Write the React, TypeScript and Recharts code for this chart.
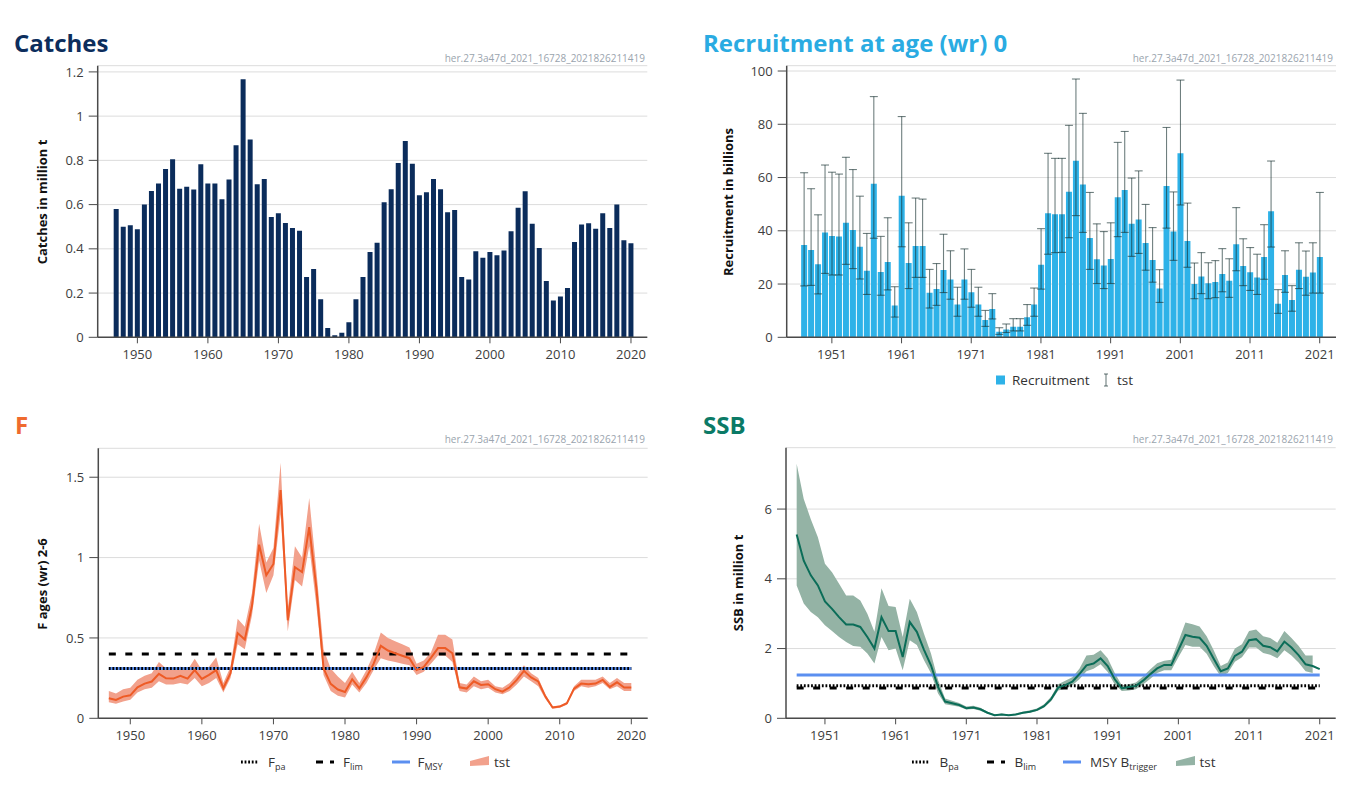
import React from 'react';
import {
  BarChart,
  Bar,
  ComposedChart,
  Area,
  Line,
  XAxis,
  YAxis,
  CartesianGrid,
  ErrorBar,
  ReferenceLine,
} from 'recharts';

// Stock assessment summary: catches, recruitment, F, SSB (her.27.3a47d)
const FONT = "'Open Sans', 'DejaVu Sans', sans-serif";
const AXIS = '#4a4a4a';
const TICK_TEXT = '#3d3d3d';
const GRID = '#dcdcdc';
const STAMP = 'her.27.3a47d_2021_16728_2021826211419';
const DOTS = '1.8 1.8';

const years = [
  1947, 1948, 1949, 1950, 1951, 1952, 1953, 1954, 1955, 1956,
  1957, 1958, 1959, 1960, 1961, 1962, 1963, 1964, 1965, 1966,
  1967, 1968, 1969, 1970, 1971, 1972, 1973, 1974, 1975, 1976,
  1977, 1978, 1979, 1980, 1981, 1982, 1983, 1984, 1985, 1986,
  1987, 1988, 1989, 1990, 1991, 1992, 1993, 1994, 1995, 1996,
  1997, 1998, 1999, 2000, 2001, 2002, 2003, 2004, 2005, 2006,
  2007, 2008, 2009, 2010, 2011, 2012, 2013, 2014, 2015, 2016,
  2017, 2018, 2019, 2020, 2021,
];

const ticks1950 = [1950, 1960, 1970, 1980, 1990, 2000, 2010, 2020];
const ticks1951 = [1951, 1961, 1971, 1981, 1991, 2001, 2011, 2021];

// Catches, million t (1947-2020)
const catches = [
  0.58, 0.5, 0.507, 0.488, 0.6, 0.662, 0.695, 0.761, 0.805, 0.672,
  0.681, 0.668, 0.782, 0.695, 0.695, 0.624, 0.713, 0.868, 1.167, 0.894,
  0.692, 0.716, 0.544, 0.561, 0.517, 0.494, 0.482, 0.273, 0.309, 0.172,
  0.042, 0.009, 0.021, 0.068, 0.172, 0.273, 0.386, 0.427, 0.611, 0.669,
  0.788, 0.888, 0.785, 0.642, 0.656, 0.716, 0.669, 0.565, 0.576, 0.273,
  0.261, 0.389, 0.36, 0.386, 0.371, 0.392, 0.479, 0.586, 0.66, 0.513,
  0.404, 0.255, 0.166, 0.184, 0.223, 0.431, 0.51, 0.516, 0.491, 0.561,
  0.494, 0.6, 0.439, 0.425,
];

// Recruitment, billions (1947-2021), with low / high bounds
const recruitment = [
  34.7, 32.8, 27.4, 39.4, 38, 37.9, 43, 40.3, 34, 25,
  57.7, 24.5, 28.3, 11.9, 53.2, 27.9, 34.3, 34.3, 16.7, 18.1,
  25.3, 21.7, 12.3, 21.7, 16.9, 12.3, 6.5, 10.6, 2.1, 2.9,
  4, 4, 7.5, 12.3, 27.2, 46.6, 46.2, 46.2, 54.7, 66.3,
  57.4, 37.3, 29.3, 27, 29.4, 52.6, 55.3, 42.6, 44.2, 35.4,
  29, 18.3, 56.8, 39.7, 69.1, 36.2, 20, 22.8, 20.3, 20.8,
  23.8, 21.2, 34.9, 26.8, 24.4, 22.5, 30.2, 47.3, 12.6, 23.4,
  14, 25.4, 22.7, 24.3, 30.2,
];
const recLow = [
  19.3, 19.5, 16.3, 24, 23.4, 23.4, 27.4, 25.8, 21.9, 16.1,
  37.2, 15.8, 17.8, 7.6, 34, 18.3, 22.5, 22.5, 11, 12,
  16.8, 14.3, 7.9, 14.3, 11.3, 7.9, 4.1, 6.9, 1.1, 1.8,
  2.4, 2.4, 4.5, 7.9, 18.1, 31.2, 31.8, 31.9, 37.4, 45.7,
  39.4, 25.5, 20.2, 18.3, 20.2, 37.8, 39.4, 30.4, 31.5, 25.2,
  20.7, 13.1, 41, 28.9, 49.7, 26.3, 14.5, 16.4, 14.5, 14.9,
  17.1, 15, 25, 19.4, 17.6, 16.1, 21.8, 33.9, 9, 16.9,
  9.8, 18.3, 15.8, 16.6, 16.6,
];
const recHigh = [
  61.8, 55.8, 46, 64.7, 62, 61.3, 67.6, 63, 53, 39,
  90.4, 37.9, 44.9, 19, 82.9, 43, 52.3, 51.9, 25.5, 27.7,
  38.7, 32.5, 18.8, 33.2, 25.5, 18.8, 10.1, 16.4, 3.6, 5,
  7, 7, 12.3, 18.5, 40.8, 69.1, 67.2, 67.2, 79.6, 97,
  84.1, 54.4, 42.6, 39.7, 43, 73.2, 77.3, 59.8, 62.5, 49.9,
  41.2, 25.4, 78.8, 54.6, 96.6, 50.4, 27.9, 31.8, 28, 28.8,
  33.3, 29.5, 48.7, 37, 33.7, 31.2, 42.3, 66.2, 17.9, 32.5,
  19.4, 35.5, 32.4, 35.5, 54.4,
];

// Fishing mortality, ages (wr) 2-6 (1947-2020)
const fValues = [
  0.125, 0.114, 0.135, 0.143, 0.193, 0.216, 0.229, 0.277, 0.249, 0.247,
  0.264, 0.247, 0.3, 0.245, 0.27, 0.3, 0.187, 0.28, 0.53, 0.49,
  0.7, 1.08, 0.89, 0.96, 1.42, 0.61, 0.94, 0.91, 1.19, 0.81,
  0.31, 0.214, 0.179, 0.164, 0.243, 0.187, 0.256, 0.34, 0.451, 0.422,
  0.405, 0.389, 0.374, 0.3, 0.32, 0.376, 0.437, 0.437, 0.405, 0.193,
  0.185, 0.23, 0.208, 0.212, 0.181, 0.166, 0.193, 0.239, 0.295, 0.254,
  0.229, 0.135, 0.067, 0.073, 0.094, 0.185, 0.216, 0.212, 0.216, 0.239,
  0.195, 0.224, 0.191, 0.191,
];
const fLow = [
  0.1, 0.09, 0.105, 0.115, 0.16, 0.18, 0.19, 0.23, 0.21, 0.21,
  0.22, 0.21, 0.25, 0.2, 0.22, 0.25, 0.16, 0.25, 0.46, 0.43,
  0.64, 0.98, 0.78, 0.89, 1.27, 0.54, 0.86, 0.82, 1.07, 0.7,
  0.27, 0.17, 0.14, 0.13, 0.21, 0.16, 0.22, 0.3, 0.374, 0.36,
  0.35, 0.34, 0.33, 0.27, 0.29, 0.34, 0.39, 0.39, 0.35, 0.17,
  0.16, 0.2, 0.18, 0.19, 0.16, 0.15, 0.17, 0.21, 0.26, 0.23,
  0.2, 0.12, 0.06, 0.065, 0.085, 0.17, 0.2, 0.19, 0.2, 0.22,
  0.18, 0.2, 0.17, 0.17,
];
const fHigh = [
  0.17, 0.155, 0.18, 0.19, 0.24, 0.265, 0.28, 0.35, 0.31, 0.31,
  0.32, 0.3, 0.37, 0.3, 0.32, 0.38, 0.22, 0.32, 0.62, 0.57,
  0.78, 1.21, 0.97, 1.06, 1.59, 0.68, 1.07, 1.0, 1.37, 0.92,
  0.43, 0.31, 0.26, 0.22, 0.29, 0.22, 0.3, 0.4, 0.534, 0.5,
  0.48, 0.46, 0.44, 0.34, 0.36, 0.41, 0.52, 0.52, 0.49, 0.22,
  0.21, 0.26, 0.23, 0.24, 0.2, 0.19, 0.22, 0.27, 0.33, 0.28,
  0.25, 0.15, 0.075, 0.08, 0.1, 0.2, 0.24, 0.24, 0.24, 0.26,
  0.22, 0.25, 0.22, 0.22,
];
const F_PA = 0.31;
const F_LIM = 0.4;
const F_MSY = 0.31;

// Spawning stock biomass, million t (1947-2021)
const ssb = [
  5.27, 4.52, 4.1, 3.81, 3.35, 3.14, 2.9, 2.69, 2.69, 2.62,
  2.33, 2.0, 2.9, 2.5, 2.5, 1.76, 2.76, 2.48, 1.97, 1.52,
  0.9, 0.48, 0.43, 0.38, 0.29, 0.31, 0.26, 0.16, 0.09, 0.11,
  0.09, 0.11, 0.16, 0.19, 0.24, 0.35, 0.55, 0.88, 0.95, 1.05,
  1.27, 1.52, 1.57, 1.72, 1.5, 1.12, 0.86, 0.9, 0.93, 1.08,
  1.26, 1.43, 1.53, 1.53, 1.96, 2.39, 2.34, 2.31, 2.08, 1.71,
  1.35, 1.43, 1.79, 1.91, 2.24, 2.27, 2.08, 2.04, 1.92, 2.2,
  2.03, 1.81, 1.55, 1.5, 1.41,
];
const ssbLow = [
  3.81, 3.29, 3.05, 2.9, 2.67, 2.5, 2.33, 2.19, 2.07, 2.05,
  1.86, 1.57, 2.33, 1.95, 2.0, 1.38, 2.24, 2.1, 1.67, 1.29,
  0.71, 0.4, 0.37, 0.33, 0.25, 0.27, 0.22, 0.13, 0.07, 0.09,
  0.07, 0.09, 0.13, 0.16, 0.21, 0.31, 0.49, 0.8, 0.85, 0.95,
  1.12, 1.35, 1.42, 1.55, 1.33, 0.97, 0.78, 0.8, 0.83, 0.97,
  1.13, 1.3, 1.38, 1.38, 1.75, 2.1, 2.05, 2.05, 1.85, 1.5,
  1.2, 1.3, 1.62, 1.75, 2.03, 2.03, 1.87, 1.82, 1.72, 1.95,
  1.8, 1.6, 1.35, 1.3, null,
];
const ssbHigh = [
  7.3, 6.29, 5.71, 5.19, 4.43, 4.19, 3.86, 3.52, 3.52, 3.38,
  3.0, 2.48, 3.73, 3.22, 3.19, 2.33, 3.43, 3.05, 2.43, 1.86,
  1.1, 0.57, 0.5, 0.44, 0.34, 0.36, 0.3, 0.19, 0.11, 0.14,
  0.11, 0.14, 0.19, 0.23, 0.28, 0.4, 0.62, 0.98, 1.08, 1.18,
  1.42, 1.8, 1.82, 1.95, 1.72, 1.3, 0.95, 0.98, 1.03, 1.2,
  1.4, 1.58, 1.65, 1.68, 2.2, 2.75, 2.7, 2.63, 2.35, 1.95,
  1.5, 1.6, 2.0, 2.12, 2.5, 2.55, 2.35, 2.3, 2.17, 2.5,
  2.3, 2.08, 1.8, 1.8, null,
];
const B_PA = 0.93;
const B_LIM = 0.87;
const MSY_BTRIGGER = 1.24;

const catchRows = catches.map((value, i) => ({ year: years[i], value }));
const recRows = recruitment.map((value, i) => ({
  year: years[i],
  value,
  err: [value - recLow[i], recHigh[i] - value],
}));
const fRows = fValues.map((f, i) => ({ year: years[i], f, band: [fLow[i], fHigh[i]] }));
const ssbRows = ssb.map((v, i) => ({
  year: years[i],
  ssb: v,
  band: ssbLow[i] == null ? null : [ssbLow[i], ssbHigh[i]],
}));

// x tick: short tick mark + label, only for the listed years
const yearTick = (axisY: number, shown: number[]) => (props: any) => {
  const { x, payload } = props;
  if (!shown.includes(payload.value)) return <g />;
  return (
    <g>
      <line x1={x} x2={x} y1={axisY} y2={axisY + 6} stroke={AXIS} strokeWidth={1} />
      <text
        x={x}
        y={axisY + 22}
        textAnchor="middle"
        fontSize={13}
        fontFamily={FONT}
        fill={TICK_TEXT}
      >
        {payload.value}
      </text>
    </g>
  );
};

const frameLine = { stroke: AXIS, strokeWidth: 1.5 };
const yAxisProps = {
  width: 60,
  tickSize: 9,
  tickMargin: 5,
  allowDataOverflow: true,
  axisLine: frameLine,
  tickLine: { stroke: AXIS },
  tick: { fontSize: 13, fill: TICK_TEXT, fontFamily: FONT },
};

function CatchesChart() {
  const pad = { left: 15, right: 12.8 };
  return (
    <BarChart
      width={680}
      height={400}
      data={catchRows}
      margin={{ top: 65.7, right: 32.7, left: 37.7, bottom: 32.7 }}
      barCategoryGap="14%"
    >
      <CartesianGrid vertical={false} stroke={GRID} />
      <XAxis
        dataKey="year"
        height={30}
        interval={0}
        padding={pad}
        tickLine={false}
        axisLine={frameLine}
        tick={yearTick(337.3, ticks1950)}
      />
      <XAxis
        xAxisId="top"
        dataKey="year"
        orientation="top"
        height={0}
        padding={pad}
        tick={false}
        tickLine={false}
        axisLine={frameLine}
      />
      <YAxis {...yAxisProps} domain={[0, 1.228]} ticks={[0, 0.2, 0.4, 0.6, 0.8, 1, 1.2]} />
      <YAxis yAxisId="right" orientation="right" width={0} tick={false} tickLine={false} axisLine={frameLine} />
      <Bar dataKey="value" fill="#0b2c5b" isAnimationActive={false} />
    </BarChart>
  );
}

function RecruitmentChart() {
  const pad = { left: 13.8, right: 12.8 };
  return (
    <BarChart
      width={689}
      height={400}
      data={recRows}
      margin={{ top: 65.7, right: 33, left: 46.7, bottom: 32.7 }}
      barCategoryGap="9%"
    >
      <CartesianGrid vertical={false} stroke={GRID} />
      <XAxis
        dataKey="year"
        height={30}
        interval={0}
        padding={pad}
        tickLine={false}
        axisLine={frameLine}
        tick={yearTick(337.3, ticks1951)}
      />
      <XAxis
        xAxisId="top"
        dataKey="year"
        orientation="top"
        height={0}
        padding={pad}
        tick={false}
        tickLine={false}
        axisLine={frameLine}
      />
      <YAxis {...yAxisProps} domain={[0, 102]} ticks={[0, 20, 40, 60, 80, 100]} />
      <YAxis yAxisId="right" orientation="right" width={0} tick={false} tickLine={false} axisLine={frameLine} />
      <Bar dataKey="value" fill="#2eb2e8" isAnimationActive={false}>
        <ErrorBar
          dataKey="err"
          direction="y"
          width={4}
          stroke="rgba(22, 48, 48, 0.62)"
          strokeWidth={1.1}
        />
      </Bar>
    </BarChart>
  );
}

function FChart() {
  const domain: [number, number] = [1945.53, 2022.29];
  return (
    <ComposedChart
      width={680}
      height={409}
      data={fRows}
      margin={{ top: 48.3, right: 32.3, left: 38.3, bottom: 60.7 }}
    >
      <CartesianGrid vertical={false} stroke={GRID} />
      <XAxis
        dataKey="year"
        type="number"
        domain={domain}
        ticks={ticks1950}
        allowDataOverflow
        height={30}
        interval={0}
        tickLine={false}
        axisLine={frameLine}
        tick={yearTick(318.3, ticks1950)}
      />
      <XAxis
        xAxisId="top"
        dataKey="year"
        type="number"
        domain={domain}
        allowDataOverflow
        orientation="top"
        height={0}
        tick={false}
        tickLine={false}
        axisLine={frameLine}
      />
      <YAxis {...yAxisProps} domain={[0, 1.68]} ticks={[0, 0.5, 1, 1.5]} />
      <YAxis yAxisId="right" orientation="right" width={0} tick={false} tickLine={false} axisLine={frameLine} />
      <Area dataKey="band" stroke="none" fill="#f2a18c" fillOpacity={1} isAnimationActive={false} />
      <ReferenceLine
        segment={[{ x: 1947, y: F_MSY }, { x: 2020, y: F_MSY }]}
        stroke="#5b8ff0"
        strokeWidth={3}
      />
      <ReferenceLine
        segment={[{ x: 1947, y: F_PA }, { x: 2020, y: F_PA }]}
        stroke="#000"
        strokeWidth={3}
        strokeDasharray={DOTS}
      />
      <ReferenceLine
        segment={[{ x: 1947, y: F_LIM }, { x: 2020, y: F_LIM }]}
        stroke="#000"
        strokeWidth={3}
        strokeDasharray="7 9.5"
      />
      <Line
        dataKey="f"
        stroke="#ee5b26"
        strokeWidth={2}
        dot={false}
        activeDot={false}
        isAnimationActive={false}
      />
    </ComposedChart>
  );
}

function SSBChart() {
  const domain: [number, number] = [1945.49, 2023.26];
  return (
    <ComposedChart
      width={689}
      height={409}
      data={ssbRows}
      margin={{ top: 47.7, right: 33.3, left: 46, bottom: 60.7 }}
    >
      <CartesianGrid vertical={false} stroke={GRID} />
      <XAxis
        dataKey="year"
        type="number"
        domain={domain}
        ticks={ticks1951}
        allowDataOverflow
        height={30}
        interval={0}
        tickLine={false}
        axisLine={frameLine}
        tick={yearTick(318.3, ticks1951)}
      />
      <XAxis
        xAxisId="top"
        dataKey="year"
        type="number"
        domain={domain}
        allowDataOverflow
        orientation="top"
        height={0}
        tick={false}
        tickLine={false}
        axisLine={frameLine}
      />
      <YAxis {...yAxisProps} domain={[0, 7.76]} ticks={[0, 2, 4, 6]} />
      <YAxis yAxisId="right" orientation="right" width={0} tick={false} tickLine={false} axisLine={frameLine} />
      <Area dataKey="band" stroke="none" fill="#94b3a5" fillOpacity={1} isAnimationActive={false} />
      <ReferenceLine
        segment={[{ x: 1947, y: MSY_BTRIGGER }, { x: 2021, y: MSY_BTRIGGER }]}
        stroke="#5b8ff0"
        strokeWidth={3}
      />
      <ReferenceLine
        segment={[{ x: 1947, y: B_LIM }, { x: 2021, y: B_LIM }]}
        stroke="#000"
        strokeWidth={3}
        strokeDasharray="7 9.5"
      />
      <ReferenceLine
        segment={[{ x: 1947, y: B_PA }, { x: 2021, y: B_PA }]}
        stroke="#000"
        strokeWidth={3}
        strokeDasharray={DOTS}
      />
      <Line
        dataKey="ssb"
        stroke="#0b6d58"
        strokeWidth={2}
        dot={false}
        activeDot={false}
        isAnimationActive={false}
      />
    </ComposedChart>
  );
}

function YTitle({ x, y, text }: { x: number; y: number; text: string }) {
  return (
    <text
      transform={`translate(${x},${y}) rotate(-90)`}
      textAnchor="middle"
      dominantBaseline="central"
      fontSize={13}
      fontWeight={700}
      fill="#111"
    >
      {text}
    </text>
  );
}

function Sub({ children }: { children: React.ReactNode }) {
  return (
    <tspan fontSize={9} dy={3.5}>
      {children}
    </tspan>
  );
}

function Wedge({ x, y, fill }: { x: number; y: number; fill: string }) {
  return <polygon points={`${x},${y - 1} ${x + 19},${y - 6} ${x + 19},${y + 3} ${x},${y + 4}`} fill={fill} />;
}

function Overlay() {
  const legendY = 762;
  const txt = { fontSize: 13.5, fill: '#333' };
  return (
    <svg
      width={1369}
      height={809}
      style={{ position: 'absolute', left: 0, top: 0, pointerEvents: 'none' }}
      fontFamily={FONT}
    >
      {/* panel titles */}
      <text x={14} y={52} fontSize={24} fontWeight={700} fill="#0c2d5c">Catches</text>
      <text x={703} y={52} fontSize={24} fontWeight={700} fill="#2aabe2">Recruitment at age (wr) 0</text>
      <text x={15} y={433.5} fontSize={24} fontWeight={700} fill="#ef6a2e">F</text>
      <text x={703} y={433.5} fontSize={24} fontWeight={700} fill="#0b7a66">SSB</text>

      {/* stamps */}
      <text x={645} y={61.5} fontSize={10} fill="#9aa4ae" textAnchor="end">{STAMP}</text>
      <text x={1333} y={61.5} fontSize={10} fill="#9aa4ae" textAnchor="end">{STAMP}</text>
      <text x={645} y={443} fontSize={10} fill="#9aa4ae" textAnchor="end">{STAMP}</text>
      <text x={1333} y={443} fontSize={10} fill="#9aa4ae" textAnchor="end">{STAMP}</text>

      {/* axis titles */}
      <YTitle x={42} y={202} text="Catches in million t" />
      <YTitle x={728} y={202} text="Recruitment in billions" />
      <YTitle x={42} y={584} text="F ages (wr) 2-6" />
      <YTitle x={738} y={583} text="SSB in million t" />

      {/* recruitment legend */}
      <rect x={996} y={375.5} width={9} height={9} fill="#2eb2e8" />
      <text x={1012} y={385} {...txt}>Recruitment</text>
      <g stroke="rgba(22, 48, 48, 0.62)" strokeWidth={1.1}>
        <line x1={1106} x2={1106} y1={374} y2={386} />
        <line x1={1104} x2={1108} y1={374} y2={374} />
        <line x1={1104} x2={1108} y1={386} y2={386} />
      </g>
      <text x={1117} y={385} {...txt}>tst</text>

      {/* F legend */}
      <line x1={241} x2={259} y1={legendY} y2={legendY} stroke="#000" strokeWidth={3} strokeDasharray={DOTS} />
      <text x={268} y={legendY + 4.5} {...txt}>F<Sub>pa</Sub></text>
      <line x1={316} x2={334} y1={legendY} y2={legendY} stroke="#000" strokeWidth={3} strokeDasharray="7 7" />
      <text x={343} y={legendY + 4.5} {...txt}>F<Sub>lim</Sub></text>
      <line x1={392} x2={410} y1={legendY} y2={legendY} stroke="#5b8ff0" strokeWidth={3} />
      <text x={417.5} y={legendY + 4.5} {...txt}>F<Sub>MSY</Sub></text>
      <Wedge x={470} y={legendY} fill="#f2a18c" />
      <text x={494} y={legendY + 4.5} {...txt}>tst</text>

      {/* SSB legend */}
      <line x1={912} x2={930} y1={legendY} y2={legendY} stroke="#000" strokeWidth={3} strokeDasharray={DOTS} />
      <text x={939.5} y={legendY + 4.5} {...txt}>B<Sub>pa</Sub></text>
      <line x1={987} x2={1005} y1={legendY} y2={legendY} stroke="#000" strokeWidth={3} strokeDasharray="7 7" />
      <text x={1014.5} y={legendY + 4.5} {...txt}>B<Sub>lim</Sub></text>
      <line x1={1063} x2={1081} y1={legendY} y2={legendY} stroke="#5b8ff0" strokeWidth={3} />
      <text x={1090} y={legendY + 4.5} {...txt}>MSY B<Sub>trigger</Sub></text>
      <Wedge x={1176} y={legendY} fill="#94b3a5" />
      <text x={1199.5} y={legendY + 4.5} {...txt}>tst</text>
    </svg>
  );
}

export default function App() {
  return (
    <div
      style={{
        position: 'absolute',
        left: 0,
        top: 0,
        width: 1369,
        height: 809,
        background: '#fff',
        fontFamily: FONT,
        overflow: 'hidden',
      }}
    >
      <div style={{ position: 'absolute', left: 0, top: 0 }}>
        <CatchesChart />
      </div>
      <div style={{ position: 'absolute', left: 680, top: 0 }}>
        <RecruitmentChart />
      </div>
      <div style={{ position: 'absolute', left: 0, top: 400 }}>
        <FChart />
      </div>
      <div style={{ position: 'absolute', left: 680, top: 400 }}>
        <SSBChart />
      </div>
      <Overlay />
    </div>
  );
}
